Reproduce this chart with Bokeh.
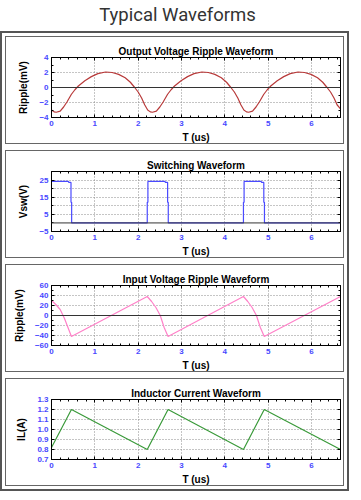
from bokeh.plotting import figure
from bokeh.models import LinearAxis, FixedTicker, Span, Div, Range1d
from bokeh.layouts import column
from bokeh.embed import file_html
from bokeh.resources import INLINE

# ---------------- data ----------------
X_TICKS = [0, 1, 2, 3, 4, 5, 6]
X_MAX = 6.67

# Output voltage ripple (mV)
t_out = [0, 0.06, 0.11, 0.2, 0.28, 0.36, 0.46, 0.54, 0.62, 0.77, 0.92, 1.07, 1.25, 1.4, 1.55, 1.7, 1.82, 1.92, 2.0, 2.08, 2.15,
         2.22, 2.28, 2.33, 2.42, 2.5, 2.58, 2.68, 2.76, 2.84, 2.99, 3.14, 3.29, 3.47, 3.62, 3.77, 3.92, 4.04, 4.14, 4.22, 4.3, 4.37,
         4.44, 4.5, 4.55, 4.64, 4.72, 4.8, 4.9, 4.98, 5.06, 5.21, 5.36, 5.51, 5.69, 5.84, 5.99, 6.14, 6.26, 6.36, 6.44, 6.52, 6.59, 6.67]
v_out = [-3.0, -3.25, -3.3, -3.15, -2.6, -1.9, -0.9, -0.3, 0.2, 0.9, 1.45, 1.85, 2.07, 2.0, 1.75, 1.3, 0.7, 0.0, -0.6, -1.4, -2.3,
         -3.0, -3.25, -3.3, -3.15, -2.6, -1.9, -0.9, -0.3, 0.2, 0.9, 1.45, 1.85, 2.07, 2.0, 1.75, 1.3, 0.7, 0.0, -0.6, -1.4, -2.3,
         -3.0, -3.25, -3.3, -3.15, -2.6, -1.9, -0.9, -0.3, 0.2, 0.9, 1.45, 1.85, 2.07, 2.0, 1.75, 1.3, 0.7, 0.0, -0.6, -1.4, -2.3, -2.85]

# Switching node voltage (V)
t_sw = [0, 0.39, 0.40, 0.45, 0.45, 0.465, 0.465, 2.21, 2.21, 2.225, 2.225, 2.62, 2.63, 2.68, 2.68, 2.695, 2.695,
        4.43, 4.43, 4.445, 4.445, 4.84, 4.85, 4.90, 4.90, 4.915, 4.915, 6.67]
v_sw = [24.2, 24.2, 23.6, 23.6, 12, 12, 0, 0, 12, 12, 24.2, 24.2, 23.6, 23.6, 12, 12, 0,
        0, 12, 12, 24.2, 24.2, 23.6, 23.6, 12, 12, 0, 0]

# Input voltage ripple (mV)
t_in = [0, 0.1, 0.2, 0.3, 0.38, 0.46, 2.21, 2.31, 2.41, 2.51, 2.6, 2.69, 4.43, 4.53, 4.63, 4.73, 4.82, 4.91, 6.67]
v_in = [30, 22, 12, -6, -24, -42, 38, 28, 16, 0, -24, -42, 38, 28, 16, 0, -24, -42, 38]

# Inductor current (A)
t_il = [0, 0.46, 2.21, 2.69, 4.43, 4.91, 6.67]
v_il = [0.82, 1.2, 0.8, 1.2, 0.8, 1.2, 0.8]

# ---------------- styling helpers ----------------
FIG_W = 339
FIG_H = 108
TICK_BLUE = "#4848ff"
FONT = "Liberation Sans"


def make_panel(title, ylabel, t, v, color, yr, yticks, yminor, ygrid, zero=True, fmt=None, zero_on_top=False):
    p = figure(width=FIG_W, height=FIG_H, output_backend="svg", toolbar_location=None,
               x_range=Range1d(0, X_MAX), y_range=Range1d(*yr),
               min_border_left=45, min_border_right=5, min_border_top=20, min_border_bottom=26,
               x_axis_label="T (us)", y_axis_label=ylabel)
    p.styles = {"border": "1px solid #666"}
    p.outline_line_color = "black"
    p.outline_line_width = 1
    p.background_fill_color = "white"
    p.border_fill_color = "white"

    p.title.text = title
    p.title.align = "center"
    p.title.text_font = FONT
    p.title.text_font_style = "bold"
    p.title.text_font_size = "10px"
    p.title.text_color = "black"
    p.title.standoff = 2
    p.title.offset = 0

    xminor = [k * 0.2 for k in range(0, 34)]
    xt = FixedTicker(ticks=X_TICKS, minor_ticks=xminor)
    yt = FixedTicker(ticks=yticks, minor_ticks=yminor)

    for ax in p.xaxis:
        ax.ticker = xt
    for ax in p.yaxis:
        ax.ticker = yt
        if fmt is not None:
            ax.major_label_overrides = fmt

    for ax in list(p.xaxis) + list(p.yaxis):
        ax.major_tick_in = 3
        ax.major_tick_out = 0
        ax.minor_tick_in = 2
        ax.minor_tick_out = 0
        ax.axis_line_color = "black"
        ax.major_tick_line_color = "black"
        ax.minor_tick_line_color = "black"
        ax.major_label_text_color = TICK_BLUE
        ax.major_label_text_font = FONT
        ax.major_label_text_font_style = "bold"
        ax.major_label_text_font_size = "8px"
        ax.major_label_standoff = 3
        ax.axis_label_text_font = FONT
        ax.axis_label_text_font_style = "bold"
        ax.axis_label_text_font_size = "10px"
        ax.axis_label_text_color = "black"
    p.xaxis.axis_label_standoff = 3
    p.yaxis.axis_label_standoff = 7

    # tick-only axes on top / right (labels not painted)
    for loc, tk in (("above", xt), ("right", yt)):
        a = LinearAxis(ticker=tk, major_label_text_font_size="1px", major_label_text_color=None,
                       major_tick_in=3, major_tick_out=0,
                       minor_tick_in=2, minor_tick_out=0, major_label_standoff=0,
                       axis_line_color="black", major_tick_line_color="black", minor_tick_line_color="black")
        p.add_layout(a, loc)

    p.xgrid.ticker = FixedTicker(ticks=X_TICKS[1:])
    p.ygrid.ticker = FixedTicker(ticks=ygrid)
    for g in (p.xgrid, p.ygrid):
        g.grid_line_color = "#8a8a8a"
        g.grid_line_dash = "1 2"
        g.grid_line_width = 1

    p.line(t, v, line_color=color, line_width=1.2)

    if zero:
        sp = Span(location=0, dimension="width", line_color="#333333", line_width=1)
        if zero_on_top:
            sp.level = "overlay"
        p.add_layout(sp)
    return p


p1 = make_panel("Output Voltage Ripple Waveform", "Ripple(mV)", t_out, v_out, "#b83a3a",
                (-4, 4), [-4, -2, 0, 2, 4], [-3, -1, 1, 3], [-2, 2])
p2 = make_panel("Switching Waveform", "Vsw(V)", t_sw, v_sw, "#4a4aff",
                (-5, 30), [-5, 5, 15, 25], [0, 10, 20], [5, 10, 15, 20, 25], zero_on_top=True)
p3 = make_panel("Input Voltage Ripple Waveform", "Ripple(mV)", t_in, v_in, "#ff80c8",
                (-60, 60), [-60, -40, -20, 0, 20, 40, 60], [-50, -30, -10, 10, 30, 50], [-40, -20, 20, 40])
il_ticks = [0.7, 0.8, 0.9, 1.0, 1.1, 1.2, 1.3]
p4 = make_panel("Inductor Current Waveform", "IL(A)", t_il, v_il, "#3a9a3a",
                (0.7, 1.3), il_ticks, [], [0.8, 0.9, 1.0, 1.1, 1.2], zero=False,
                fmt={0.7: "0.7", 0.8: "0.8", 0.9: "0.9", 1.0: "1.0", 1.1: "1.1", 1.2: "1.2", 1.3: "1.3"})

title = Div(text="Typical Waveforms", width=345, height=21,
            styles={"text-align": "center", "font-family": "Roboto", "font-size": "18.5px",
                    "color": "#333333", "line-height": "20px", "width": "345px"})

box = column(p1, p2, p3, p4, spacing=6,
             styles={"border": "2px solid #555", "padding": "3px"})

layout = column(title, box, spacing=0)

open("out.html", "w").write(file_html(layout, INLINE))
